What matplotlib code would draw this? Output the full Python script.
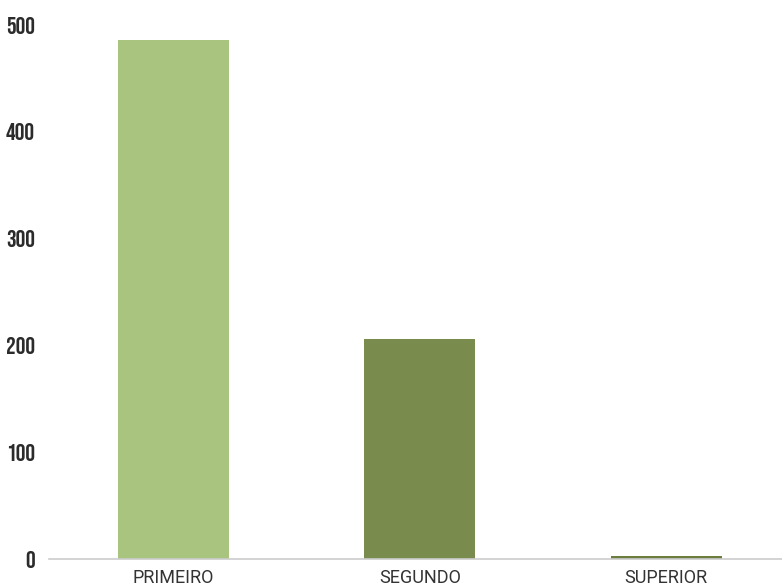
import matplotlib.pyplot as plt

categories = ['PRIMEIRO', 'SEGUNDO', 'SUPERIOR']
values = [486, 206, 3]
colors = ['#a8c47e', '#7a8b4e', '#6b7d3f']
yticks = [0, 100, 200, 300, 400, 500]

fig = plt.figure(figsize=(7.82, 5.87), dpi=100)
ax = fig.add_axes([49 / 782, 28 / 587, 1 - 49 / 782, (559 - 25) / 587])

x = range(len(categories))
ax.bar(x, values, width=0.45, color=colors)

ax.set_xlim(-0.505, 2.47)
ax.set_ylim(0, 500)
ax.set_xticks(list(x))
ax.set_xticklabels(categories, fontsize=13, color='#333333', family=['Roboto', 'DejaVu Sans'])
ax.set_yticks(yticks)
ax.set_yticklabels([str(t) for t in yticks], fontsize=17.5, color='#2b2b2b',
                   family=['Bebas Neue', 'DejaVu Sans'])
ax.tick_params(axis='both', length=0)
ax.tick_params(axis='y', pad=10)
ax.tick_params(axis='x', pad=7)

for s in ['top', 'right', 'left']:
    ax.spines[s].set_visible(False)
ax.spines['bottom'].set_color('#cccccc')
ax.spines['bottom'].set_linewidth(1.2)

fig.savefig('out.png', dpi=100)
